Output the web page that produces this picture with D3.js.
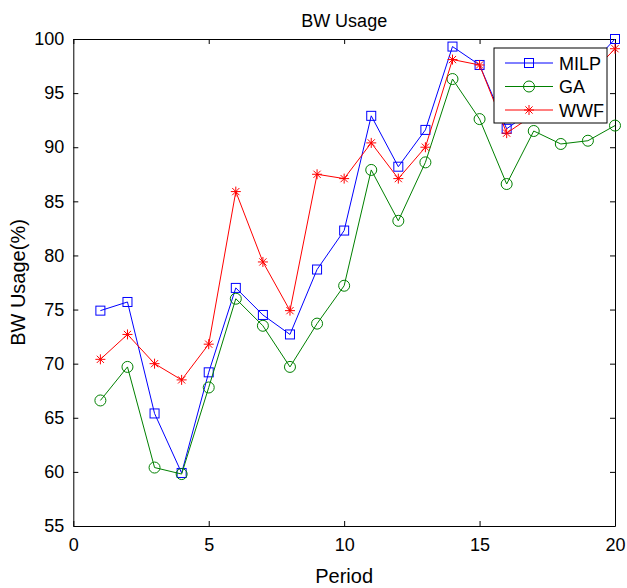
<!DOCTYPE html>
<html lang="en">
<head>
<meta charset="UTF-8">
<title>BW Usage</title>
<script src="https://d3js.org/d3.v7.min.js"></script>
<style>
body { margin: 0; background: white; }
svg { font-family: 'Liberation Sans', Arial, sans-serif; }
.axis text { font-size: 18px; fill: black; }
.axis path, .axis line { stroke: black; stroke-width: 1px; }
</style>
</head>
<body>
<div id="chart"></div>
<script>
// data
var periods = d3.range(1, 21);
var milp = [74.9, 75.7, 65.4, 59.9, 69.2, 77.0, 74.5, 72.7, 78.7, 82.3,
            92.9, 88.2, 91.6, 99.3, 97.6, 91.7, 93.5, 95.0, 97.3, 100.0];
var ga   = [66.6, 69.7, 60.4, 59.8, 67.8, 76.0, 73.5, 69.7, 73.7, 77.2,
            87.9, 83.2, 88.6, 96.3, 92.6, 86.6, 91.5, 90.3, 90.6, 92.0];
var wwf  = [70.4, 72.7, 70.0, 68.5, 71.8, 85.9, 79.4, 74.9, 87.5, 87.1,
            90.4, 87.1, 90.0, 98.1, 97.6, 91.3, 93.0, 94.5, 96.5, 99.1];
var seriesNames = ["MILP", "GA", "WWF"];
var seriesColors = ["#0000ff", "#008000", "#ff0000"];
var seriesMarkers = ["square", "circle", "star"];
var xTicks = [0, 5, 10, 15, 20];
var yTicks = [55, 60, 65, 70, 75, 80, 85, 90, 95, 100];

var totalWidth = 627, totalHeight = 588;
var margin = {top: 39, right: 12, bottom: 62, left: 73.3};
var width = totalWidth - margin.left - margin.right;
var height = totalHeight - margin.top - margin.bottom;

var svg = d3.select("#chart").append("svg")
  .attr("width", totalWidth)
  .attr("height", totalHeight);

var g = svg.append("g").attr("transform", `translate(${margin.left},${margin.top})`);

var x = d3.scaleLinear().domain([0, 20]).range([0, width]);
var y = d3.scaleLinear().domain([55, 100]).range([height, 0]);

// frame + ticks on all sides (inward)
g.append("g").attr("class", "axis")
  .attr("transform", `translate(0,${height})`)
  .call(d3.axisBottom(x).tickValues(xTicks).tickSize(-5).tickPadding(12).tickSizeOuter(0));
g.append("g").attr("class", "axis")
  .call(d3.axisTop(x).tickValues(xTicks).tickSize(-5).tickFormat("").tickSizeOuter(0));
g.append("g").attr("class", "axis")
  .call(d3.axisLeft(y).tickValues(yTicks).tickSize(-5).tickPadding(9).tickSizeOuter(0));
g.append("g").attr("class", "axis")
  .attr("transform", `translate(${width},0)`)
  .call(d3.axisRight(y).tickValues(yTicks).tickSize(-5).tickFormat("").tickSizeOuter(0));

// labels
svg.append("text")
  .attr("x", margin.left + width / 2).attr("y", 27)
  .attr("text-anchor", "middle").style("font-size", "18px")
  .text("BW Usage");
svg.append("text")
  .attr("x", margin.left + width / 2).attr("y", 583)
  .attr("text-anchor", "middle").style("font-size", "20px")
  .text("Period");
svg.append("text")
  .attr("transform", `translate(25,${margin.top + height / 2}) rotate(-90)`)
  .attr("text-anchor", "middle").style("font-size", "20px")
  .text("BW Usage(%)");

function drawMarker(sel, type, color) {
  if (type === "square") {
    sel.append("rect").attr("x", -4.5).attr("y", -4.5).attr("width", 9).attr("height", 9)
      .attr("fill", "none").attr("stroke", color);
  } else if (type === "circle") {
    sel.append("circle").attr("r", 5.5).attr("fill", "none").attr("stroke", color);
  } else {
    var r = 5, d = 3.6;
    sel.append("path")
      .attr("d", `M${-r},0L${r},0M0,${-r}L0,${r}M${-d},${-d}L${d},${d}M${-d},${d}L${d},${-d}`)
      .attr("stroke", color).attr("fill", "none");
  }
}

var allSeries = [milp, ga, wwf];
var line = d3.line().x((d, i) => x(periods[i])).y(d => y(d));

allSeries.forEach(function(vals, s) {
  g.append("path").datum(vals)
    .attr("fill", "none").attr("stroke", seriesColors[s]).attr("stroke-width", 1)
    .attr("d", line);
  g.selectAll(".m" + s).data(vals).enter().append("g")
    .attr("class", "m" + s)
    .attr("transform", (d, i) => `translate(${x(periods[i])},${y(d)})`)
    .each(function() { drawMarker(d3.select(this), seriesMarkers[s], seriesColors[s]); });
});

// legend
var legend = svg.append("g").attr("transform", "translate(494,48)");
legend.append("rect").attr("width", 113).attr("height", 75)
  .attr("fill", "white").attr("stroke", "black");
seriesNames.forEach(function(name, s) {
  var row = legend.append("g").attr("transform", `translate(0,${15 + s * 23.5})`);
  row.append("line").attr("x1", 11).attr("x2", 59)
    .attr("stroke", seriesColors[s]);
  var m = row.append("g").attr("transform", "translate(35,0)");
  drawMarker(m, seriesMarkers[s], seriesColors[s]);
  row.append("text").attr("x", 65).attr("y", 6.5)
    .style("font-size", "18px").text(name);
});
</script>
</body>
</html>
